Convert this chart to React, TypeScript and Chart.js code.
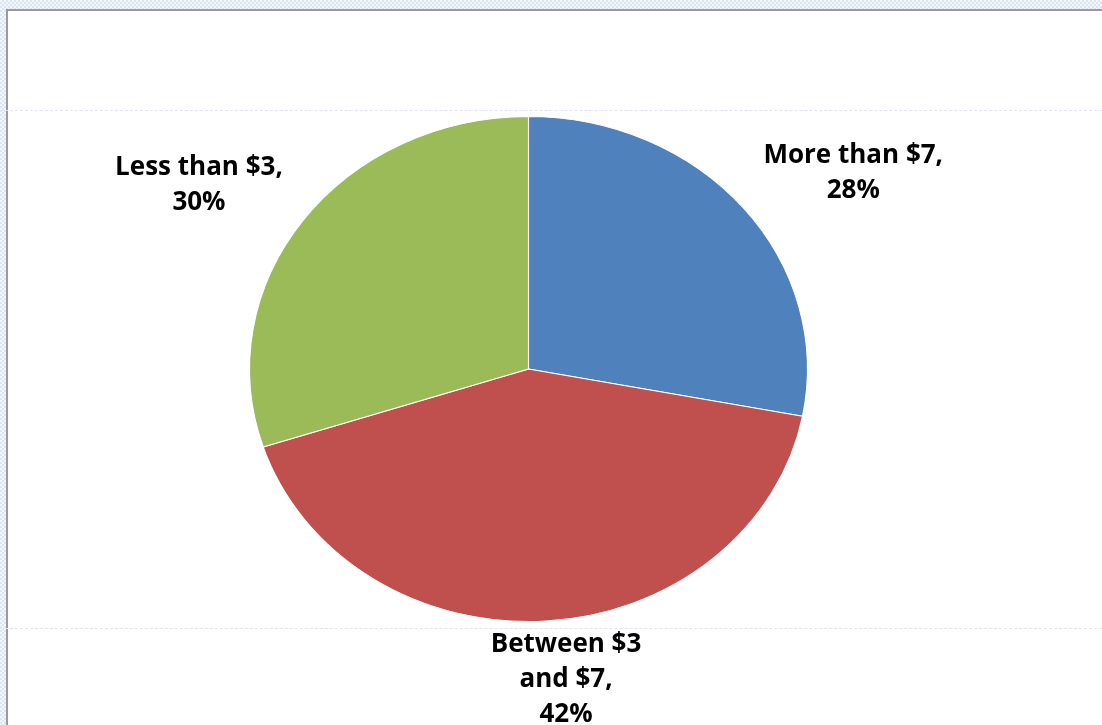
import React, { useEffect, useRef } from "react";
import { Chart, registerables } from "chart.js";

Chart.register(...registerables);

const categories = ["More than $7", "Between $3 and $7", "Less than $3"];
const percentValues = [28, 42, 30];
const sliceColors = ["#4F81BD", "#C0504D", "#9BBB59"];

const FONT = "bold 26px 'Open Sans', Lato, sans-serif";
const LINE_H = 35;
const WRAP_W = 190;
const SCALE_X = 279.5 / 253;

function wrapLines(ctx: CanvasRenderingContext2D, text: string, maxW: number): string[] {
  const words = text.split(" ");
  const lines: string[] = [];
  let cur = "";
  for (const w of words) {
    const test = cur ? cur + " " + w : w;
    if (ctx.measureText(test).width > maxW && cur) {
      lines.push(cur);
      cur = w;
    } else cur = test;
  }
  if (cur) lines.push(cur);
  return lines;
}

const ellipseLabelPlugin = {
  id: "ellipseLabels",
  beforeDatasetsDraw(chart: any) {
    const meta = chart.getDatasetMeta(0);
    const arc = meta.data[0];
    if (!arc) return;
    const ctx = chart.ctx;
    ctx.save();
    ctx.translate(arc.x, arc.y);
    ctx.scale(SCALE_X, 1);
    ctx.translate(-arc.x, -arc.y);
  },
  afterDatasetsDraw(chart: any) {
    const ctx: CanvasRenderingContext2D = chart.ctx;
    ctx.restore();
    const meta = chart.getDatasetMeta(0);
    ctx.save();
    ctx.font = FONT;
    ctx.fillStyle = "#000000";
    ctx.textAlign = "center";
    ctx.textBaseline = "middle";
    meta.data.forEach((arc: any, i: number) => {
      const mid = (arc.startAngle + arc.endAngle) / 2;
      const r = arc.outerRadius;
      const c = Math.cos(mid);
      const s = Math.sin(mid);
      const px = arc.x + c * r * SCALE_X;
      const py = arc.y + s * r;
      const lines = [...wrapLines(ctx, categories[i] + ",", WRAP_W), percentValues[i] + "%"];
      const w = Math.max(...lines.map((l) => ctx.measureText(l).width));
      const h = lines.length * LINE_H;
      const ax = px + 20 * Math.sign(c);
      let cx: number;
      if (c > 0.3) cx = ax + w / 2;
      else if (c < -0.3) cx = ax - w / 2;
      else cx = ax;
      let top: number;
      if (s < -0.3) top = py - h;
      else if (s > 0.3) top = py + 6;
      else top = py - h / 2;
      lines.forEach((l, k) => {
        ctx.fillText(l, cx, top + LINE_H * k + LINE_H / 2);
      });
    });
    ctx.restore();
  },
};

export default function App() {
  const ref = useRef<HTMLCanvasElement>(null);
  useEffect(() => {
    if (!ref.current) return;
    const chart = new Chart(ref.current, {
      type: "pie",
      data: {
        labels: categories,
        datasets: [
          {
            data: percentValues,
            backgroundColor: sliceColors,
            borderColor: "#ffffff",
            borderWidth: 1,
          },
        ],
      },
      options: {
        responsive: false,
        animation: false,
        layout: { padding: { top: 116, bottom: 103, left: 228.5, right: 273.5 } },
        plugins: {
          legend: { display: false },
          tooltip: { enabled: false },
        },
      },
      plugins: [ellipseLabelPlugin],
    });
    return () => chart.destroy();
  }, []);

  return (
    <div
      style={{
        position: "fixed",
        left: 0,
        top: 0,
        width: 1102,
        height: 725,
        overflow: "hidden",
        background: "repeating-conic-gradient(#dce5f3 0 25%, #f3f6fb 0 50%) 0 0 / 4px 4px",
      }}
    >
      <div
        style={{
          position: "absolute",
          left: 6,
          top: 9,
          right: 0,
          bottom: 0,
          background: "#ffffff",
          borderTop: "2px solid #9a9a9a",
          borderLeft: "2px solid #9a9a9a",
        }}
      />
      <div
        style={{
          position: "absolute",
          left: 0,
          right: 0,
          top: 110,
          borderTop: "1px dashed #dfe5ef",
        }}
      />
      <div
        style={{
          position: "absolute",
          left: 0,
          right: 0,
          top: 628,
          borderTop: "1px dashed #dfe5ef",
        }}
      />
      <canvas ref={ref} width={1102} height={725} style={{ position: "absolute", left: 0, top: 0 }} />
    </div>
  );
}
